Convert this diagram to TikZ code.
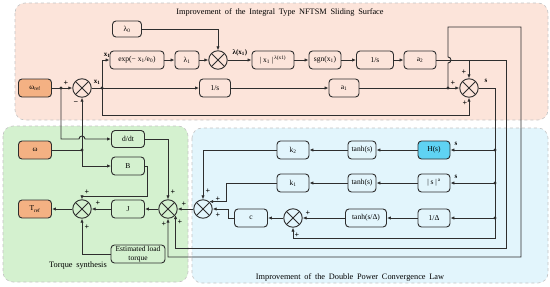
\documentclass[tikz,border=0pt]{standalone}
\usepackage{fontspec}
\setmainfont{Liberation Serif}
\usetikzlibrary{arrows.meta}
\definecolor{pinkbg}{HTML}{FCE4DA}
\definecolor{greenbg}{HTML}{D4F1CF}
\definecolor{bluebg}{HTML}{E2F5FC}
\definecolor{orangebox}{HTML}{F4B183}
\definecolor{cyanbox}{HTML}{5FD3F3}
\definecolor{lineclr}{HTML}{2E2E2E}
\definecolor{regionborder}{HTML}{C4C4C4}
\newcommand\mywidespace{\spaceskip 0.45em\relax}
\begin{document}
\begin{tikzpicture}[x=1pt,y=-1pt,
  blk/.style={draw=lineclr, line width=0.9pt, rounded corners=3.5pt, minimum height=18pt, inner sep=1pt, font=\fontsize{7.5}{8}\selectfont},
  sumn/.style={draw=lineclr, circle, line width=0.9pt, minimum size=18.5pt, inner sep=0pt,
    path picture={\draw[lineclr, line width=0.9pt] (path picture bounding box.south west) -- (path picture bounding box.north east) (path picture bounding box.north west) -- (path picture bounding box.south east);}},
  region/.style={draw=regionborder, dashed, line width=0.6pt, rounded corners=10pt},
  arr/.style={-{Latex[length=4pt,width=3.4pt]}, draw=lineclr, line width=0.9pt},
  ln/.style={draw=lineclr, line width=0.9pt},
  dot/.style={circle, fill=lineclr, inner sep=0pt, minimum size=3.4pt},
  lbl/.style={font=\fontsize{7}{7}\selectfont\bfseries, inner sep=0.5pt},
  pm/.style={font=\fontsize{8}{8}\selectfont\bfseries, inner sep=0pt},
  ttl/.style={font=\fontsize{8.3}{9}\selectfont\mywidespace, inner sep=0pt}
]
\useasboundingbox (0,0) rectangle (550,287);
% regions
\draw[region, fill=pinkbg] (15,3) rectangle (548,120);
\draw[region, fill=greenbg] (3,126) rectangle (188,282);
\draw[region, fill=bluebg] (192,128) rectangle (548,283);
\node[ttl] (t1) at (280,12) {Improvement of the Integral Type NFTSM Sliding Surface};
\node[ttl] (t2) at (78,266) {Torque synthesis};
\node[ttl] (t3) at (350,277) {Improvement of the Double Power Convergence Law};

% top nodes
\node[blk, fill=orangebox, minimum width=33pt] (wref) at (35,88) {ω\textsubscript{ref}};
\node[sumn] (s0) at (82,88) {};
\node[dot] (d0) at (61,88) {};
\node[dot] (d1) at (102,88) {};
\node[blk, minimum width=54pt] (exp) at (137,60) {exp(− x\textsubscript{1}/e\textsubscript{0})};
\node[blk, minimum width=24pt] (l1) at (187,60) {λ\textsubscript{1}};
\node[blk, minimum width=29pt, minimum height=16pt] (l0) at (127,29) {λ\textsubscript{0}};
\node[sumn] (s1) at (218,60) {};
\node[blk, minimum width=42pt] (pw) at (273,60) {| x\textsubscript{1} |\textsuperscript{\,λ(x1)}};
\node[blk, minimum width=32pt] (sgn) at (325,60) {sgn(x\textsubscript{1})};
\node[blk, minimum width=37pt] (int1) at (375,60) {1/s};
\node[blk, minimum width=32pt] (a2) at (420,60) {a\textsubscript{2}};
\node[blk, minimum width=31pt] (int2) at (215,88) {1/s};
\node[blk, minimum width=30pt] (a1) at (344,88) {a\textsubscript{1}};
\node[sumn] (s2) at (469,88) {};
\node[dot] (d2) at (448,88) {};

% blue nodes
\node[blk, fill=cyanbox, minimum width=32pt] (H) at (434,150) {H(s)};
\node[blk, minimum width=28pt] (th1) at (362,150) {tanh(s)};
\node[blk, minimum width=32pt] (k2) at (293,150) {k\textsubscript{2}};
\node[blk, minimum width=32pt] (sa) at (434,183) {| s |\textsuperscript{\,a}};
\node[blk, minimum width=28pt] (th2) at (362,183) {tanh(s)};
\node[blk, minimum width=32pt] (k1) at (293,183) {k\textsubscript{1}};
\node[blk, minimum width=32pt] (idel) at (434,218) {1/Δ};
\node[blk, minimum width=41pt] (th3) at (366,218) {tanh(s/Δ)};
\node[sumn] (sc) at (293,218) {};
\node[blk, minimum width=33pt] (c) at (251,218) {c};
\node[sumn] (s4) at (203,209) {};
\node[dot] (e1) at (495,150) {};
\node[dot] (e2) at (495,183) {};
\node[dot] (e3) at (495,218) {};

% green nodes
\node[blk, fill=orangebox, minimum width=33pt] (w) at (35,150) {ω};
\node[blk, minimum width=33pt, minimum height=17pt] (ddt) at (128,139) {d/dt};
\node[blk, minimum width=33pt] (B) at (128,166) {B};
\node[blk, minimum width=33pt] (J) at (128,209) {J};
\node[sumn] (s3) at (168,209) {};
\node[sumn] (s5) at (82,209) {};
\node[blk, fill=orangebox, minimum width=33pt] (Tref) at (35,209) {T\textsubscript{ref}};
\node[blk, minimum width=54pt, align=center, inner sep=0.5pt, font=\fontsize{7.5}{8.5}\selectfont] (load) at (138,254) {Estimated load\\torque};
\node[dot] (d3) at (82,150) {};

% top connections
\draw[arr] (wref.east) -- (s0.west);
\draw[ln] (s0.east) -- (d1.center);
\draw[arr] (d1.center) |- (exp.west);
\draw[arr] (d1.center) -- (int2.west);
\draw[arr] (d1.center) -- (102,115) -| (s2.south);
\draw[arr] (exp) -- (l1);
\draw[arr] (l1) -- (s1);
\draw[arr] (l0.east) -| (s1.north);
\draw[arr] (s1) -- (pw);
\draw[arr] (pw) -- (sgn);
\draw[arr] (sgn) -- (int1);
\draw[arr] (int1) -- (a2);
\draw[arr] (int2) -- (a1);
\draw[ln] (a1.east) -- (d2.center);
\draw[arr] (d2.center) -- (s2.west);
\draw[arr] (a2.east) -- (506,60) -- (506,248) -| (s3.-39);
\draw[arr] (469,60) -- (s2.north);
\draw[arr] (d2.center) -- (448,63) arc[start angle=90, end angle=-90, radius=3] -- (448,27) -- (521,27) -- (521,257) -| (s3.south);
\draw[arr] (s2.east) -- (495,88) -- (495,238) -| (sc.south);

% blue connections
\draw[arr] (e1.center) -- (H.east);
\draw[arr] (e2.center) -- (sa.east);
\draw[arr] (e3.center) -- (idel.east);
\draw[arr] (H) -- (th1);
\draw[arr] (th1) -- (k2);
\draw[arr] (k2.west) -| (s4.north);
\draw[arr] (sa) -- (th2);
\draw[arr] (th2) -- (k1);
\draw[arr] (k1.west) -- (226,183) |- (s4.50);
\draw[arr] (idel) -- (th3);
\draw[arr] (th3) -- (sc);
\draw[arr] (sc) -- (c);
\draw[arr] (c.west) -- (228,218) |- (s4.east);
\draw[arr] (s4) -- (s3);

% green connections
\draw[arr] (s3) -- (J);
\draw[arr] (J) -- (s5);
\draw[arr] (s5) -- (Tref);
\draw[arr] (ddt.east) -| (s3.north);
\draw[arr] (B.east) -- (147,166) -- (147,196) -| (s5.north);
\draw[arr] (load.west) -| (s5.south);
\draw[ln] (w.east) -- (d3.center);
\draw[arr] (d3.center) |- (B.west);
\draw[arr] (d3.center) -- (s0.south);
\draw[arr] (d0.center) -- (61,139) -- (79,139) arc[start angle=180, end angle=360, radius=3] -- (ddt.west);

% labels
\node[lbl] (lx1a) at (97,82) {x\textsubscript{1}};
\node[lbl] (lx1b) at (107,55) {x\textsubscript{1}};
\node[lbl] (llam) at (240,53) {λ(x\textsubscript{1})};
\node[lbl] (ls0) at (486,81) {s};
\node[lbl] (ls1) at (456,144) {s};
\node[lbl] (ls2) at (456,177) {s};
\node[pm] at (66,83) {+};
\node[pm] at (76,103) {−};
\node[pm] at (464,72) {+};
\node[pm] at (453,83) {+};
\node[pm] at (465,103) {+};
\node[pm] at (173,192) {+};
\node[pm] at (184,204) {+};
\node[pm] at (180,222) {+};
\node[pm] at (164,224) {+};
\node[pm] at (208,191) {+};
\node[pm] at (218,199) {+};
\node[pm] at (218,215) {+};
\node[pm] at (308,213) {+};
\node[pm] at (297,235) {+};
\node[pm] at (87,192) {+};
\node[pm] at (98,203) {+};
\node[pm] at (87,227) {+};
\end{tikzpicture}
\end{document}
